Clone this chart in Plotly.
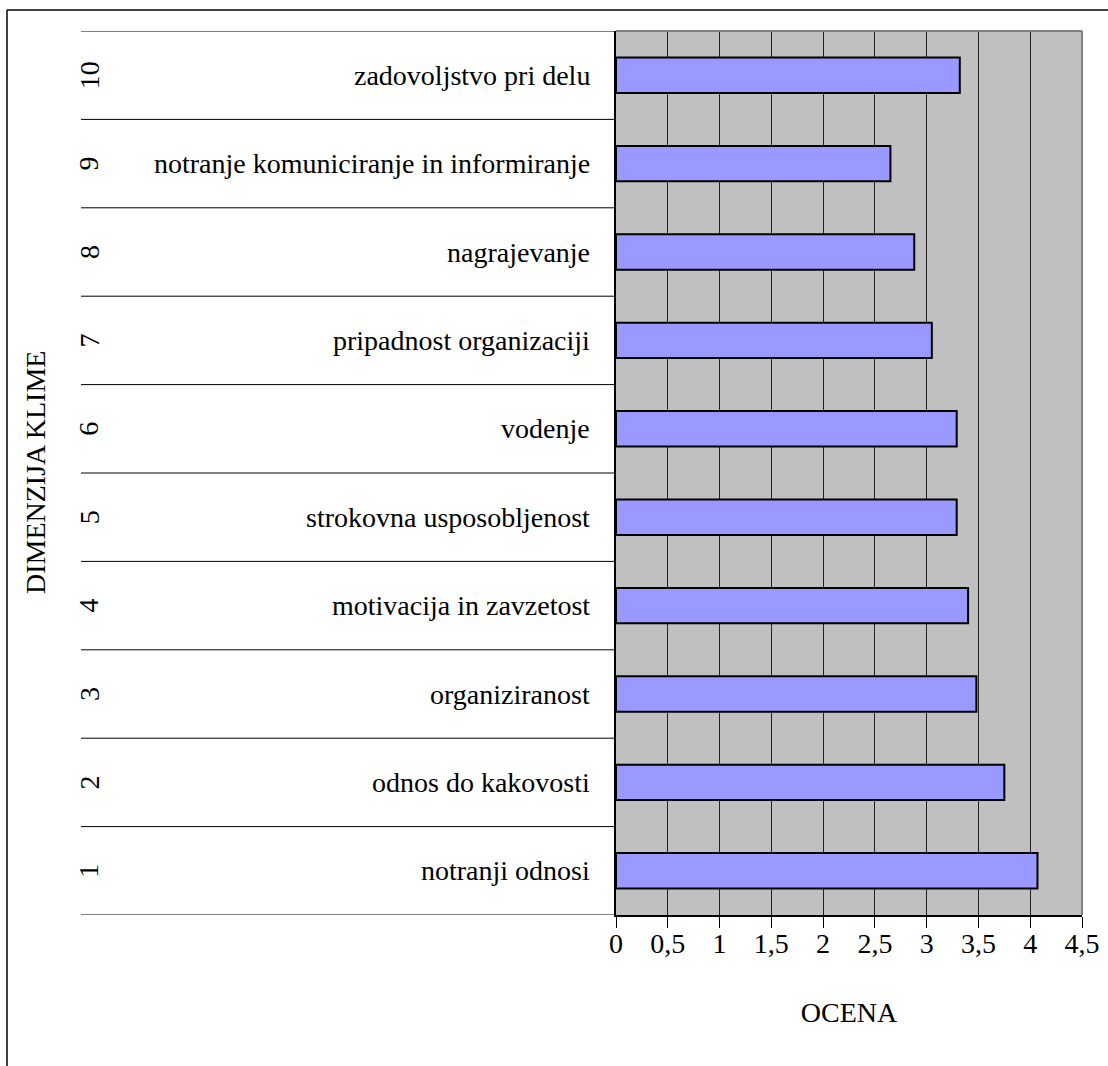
import plotly.graph_objects as go

# ---- data ----
dim_numbers = [1, 2, 3, 4, 5, 6, 7, 8, 9, 10]
dim_names = [
    "notranji odnosi",
    "odnos do kakovosti",
    "organiziranost",
    "motivacija in zavzetost",
    "strokovna usposobljenost",
    "vodenje",
    "pripadnost organizaciji",
    "nagrajevanje",
    "notranje komuniciranje in informiranje",
    "zadovoljstvo pri delu",
]
scores = [4.07, 3.75, 3.48, 3.40, 3.29, 3.29, 3.05, 2.88, 2.65, 3.32]
x_title = "OCENA"
y_title = "DIMENZIJA KLIME"

# ---- layout geometry ----
W, H = 1108, 1066
ML, MR, MT, MB = 616, 26, 31, 151
PW = W - ML - MR
PH = H - MT - MB


def px_x(px):
    return (px - ML) / PW


def px_y(py):
    return 1 - (py - MT) / PH


FONT = "Liberation Serif, Times New Roman, serif"
FS = 28

fig = go.Figure()
fig.add_trace(go.Bar(
    x=scores,
    y=dim_numbers,
    orientation="h",
    width=0.4,
    marker=dict(color="#9999FF", line=dict(color="black", width=2)),
    hoverinfo="x+y",
))

shapes = []
# category divider lines (left table)
for b in range(len(dim_numbers) + 1):
    shapes.append(dict(type="line", xref="paper", yref="y",
                       x0=px_x(81), x1=0, y0=b + 0.5, y1=b + 0.5,
                       line=dict(color="black", width=1), layer="above"))
# plot area border (top and right, gray)
shapes.append(dict(type="line", xref="paper", yref="paper", x0=0, x1=1, y0=1, y1=1,
                   line=dict(color="#808080", width=2), layer="above"))
shapes.append(dict(type="line", xref="paper", yref="paper", x0=1, x1=1, y0=0, y1=1,
                   line=dict(color="#808080", width=2), layer="above"))
# outer chart border (top and left)
shapes.append(dict(type="line", xref="paper", yref="paper",
                   x0=px_x(7), x1=px_x(W + 5), y0=px_y(10), y1=px_y(10),
                   line=dict(color="black", width=1.5), layer="above"))
shapes.append(dict(type="line", xref="paper", yref="paper",
                   x0=px_x(7), x1=px_x(7), y0=px_y(10), y1=px_y(H + 5),
                   line=dict(color="black", width=1.5), layer="above"))

annotations = []
for n, name in zip(dim_numbers, dim_names):
    annotations.append(dict(x=0, xref="paper", y=n, yref="y", text=name,
                            showarrow=False, xanchor="right", yanchor="middle",
                            xshift=-24, font=dict(family=FONT, size=FS, color="black")))
    annotations.append(dict(x=px_x(89), xref="paper", y=n, yref="y", text=str(n),
                            showarrow=False, xanchor="center", yanchor="middle",
                            textangle=-90, font=dict(family=FONT, size=FS, color="black")))
annotations.append(dict(x=px_x(35), xref="paper", y=0.5, yref="paper", text=y_title,
                        showarrow=False, xanchor="center", yanchor="middle",
                        textangle=-90, font=dict(family=FONT, size=FS, color="black")))

fig.update_layout(
    width=W, height=H,
    autosize=False,
    margin=dict(l=ML, r=MR, t=MT, b=MB, pad=0, autoexpand=False),
    paper_bgcolor="white",
    plot_bgcolor="#C0C0C0",
    separators=", ",
    showlegend=False,
    font=dict(family=FONT, size=FS, color="black"),
    xaxis=dict(
        range=[0, 4.5], dtick=0.5, tick0=0,
        automargin=False,
        showgrid=True, gridcolor="#222222", gridwidth=1,
        showline=True, linecolor="black", linewidth=1.5,
        zeroline=False,
        ticks="outside", ticklen=11, tickcolor="black", tickwidth=1,
        ticklabelstandoff=-8,
        tickfont=dict(family=FONT, size=FS, color="black"),
        title=dict(text=x_title, font=dict(family=FONT, size=FS, color="black"), standoff=44),
        fixedrange=True,
    ),
    yaxis=dict(
        range=[0.5, 10.5],
        automargin=False,
        showgrid=False, zeroline=False,
        showline=True, linecolor="black", linewidth=1.5,
        showticklabels=False, ticks="",
        fixedrange=True,
    ),
    shapes=shapes,
    annotations=annotations,
)

fig.write_html("out.html", config={"displayModeBar": False},
               post_script="document.body.style.margin='0';document.body.style.overflow='hidden';")
